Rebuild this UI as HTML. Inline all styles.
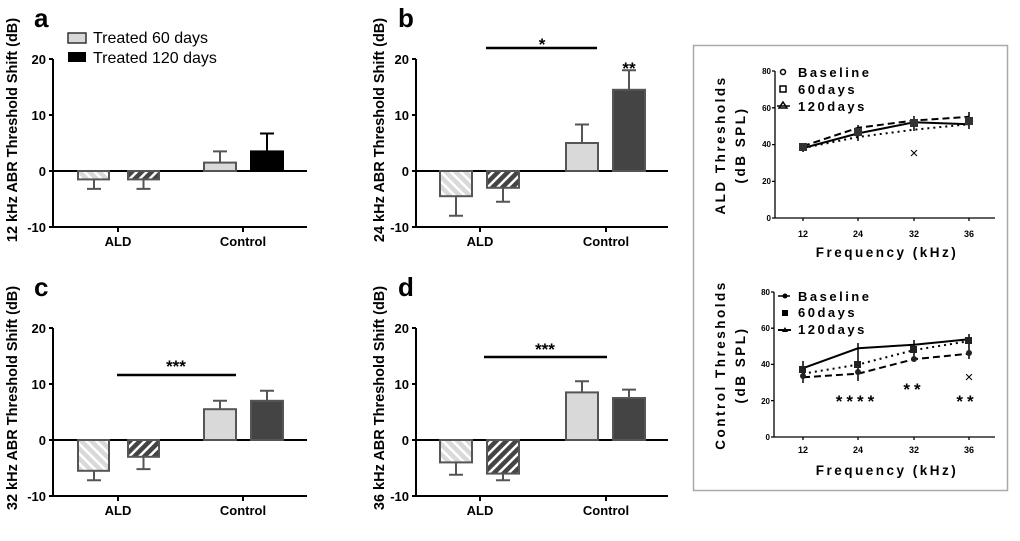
<!DOCTYPE html>
<html><head><meta charset="utf-8"><style>
body{margin:0;background:#fff}
svg{display:block;font-family:"Liberation Sans",Arial,sans-serif}
.tk{font-size:13px;font-weight:bold;text-anchor:end}
.cat{font-size:13px;font-weight:bold;text-anchor:middle}
.yt{font-size:14.5px;font-weight:bold;text-anchor:middle}
.pl{font-size:26px;font-weight:bold}
.st{font-size:17px;font-weight:bold;text-anchor:middle}
.it{font-size:8px;font-weight:bold;text-anchor:end}
.ix{font-size:9px;font-weight:bold;text-anchor:middle}
.lg{font-size:13px;font-weight:bold;letter-spacing:2.5px}
.ia{font-size:13.5px;font-weight:bold;letter-spacing:2.5px;text-anchor:middle}
</style></head><body>
<svg width="1020" height="541" viewBox="0 0 1020 541">
<defs>
<pattern id="hl" width="7" height="7" patternUnits="userSpaceOnUse" patternTransform="rotate(-45)">
<rect width="7" height="7" fill="#d9d9d9"/><rect width="2.5" height="7" fill="#fff"/></pattern>
<pattern id="hd" width="7" height="7" patternUnits="userSpaceOnUse" patternTransform="rotate(45)">
<rect width="7" height="7" fill="#444"/><rect width="2.5" height="7" fill="#fff"/></pattern>
</defs>
<g stroke="#000" stroke-width="2" fill="none">
<path d="M53 59V227M49 59H53M49 115H53M49 171H53M49 227H53M53 227H307M118 227v5M243 227v5M53 171H307"/>
<path d="M416 59V227M412 59H416M412 115H416M412 171H416M412 227H416M416 227H668M480 227v5M606 227v5M416 171H668"/>
<path d="M53 328V496M49 328H53M49 384H53M49 440H53M49 496H53M53 496H307M118 496v5M243 496v5M53 440H307"/>
<path d="M416 328V496M412 328H416M412 384H416M412 440H416M412 496H416M416 496H668M480 496v5M606 496v5M416 440H668"/>
</g>
<g stroke="#555" stroke-width="2">
<rect x="78" y="171" width="31" height="8.4" fill="url(#hl)"/>
<rect x="128" y="171" width="31" height="8.4" fill="url(#hd)"/>
<rect x="204" y="162.6" width="32" height="8.4" fill="#d9d9d9"/>
<rect x="251" y="151.4" width="32" height="19.6" fill="#000" stroke="#000"/>
<rect x="440" y="171" width="32" height="25.2" fill="url(#hl)"/>
<rect x="487" y="171" width="32" height="16.8" fill="url(#hd)"/>
<rect x="566" y="143" width="32" height="28" fill="#d9d9d9"/>
<rect x="613" y="89.8" width="32" height="81.2" fill="#444"/>
<rect x="78" y="440" width="31" height="30.8" fill="url(#hl)"/>
<rect x="128" y="440" width="31" height="16.8" fill="url(#hd)"/>
<rect x="204" y="409.2" width="32" height="30.8" fill="#d9d9d9"/>
<rect x="251" y="400.8" width="32" height="39.2" fill="#444"/>
<rect x="440" y="440" width="32" height="22.4" fill="url(#hl)"/>
<rect x="487" y="440" width="32" height="33.6" fill="url(#hd)"/>
<rect x="566" y="392.4" width="32" height="47.6" fill="#d9d9d9"/>
<rect x="613" y="398" width="32" height="42" fill="#444"/>
</g>
<g stroke="#555" stroke-width="2" fill="none">
<path d="M94 179.4V188.9M87 188.9H101M143.5 179.4V188.9M136.5 188.9H150.5M220 162.6V151.4M213 151.4H227"/>
<path d="M267 151.4V133.5M260 133.5H274" stroke="#000"/>
<path d="M456 196.2V215.8M449 215.8H463M503 187.8V201.8M496 201.8H510M582 143V124.5M575 124.5H589M629 89.8V70.2M622 70.2H636"/>
<path d="M94 470.8V480.3M87 480.3H101M143.5 456.8V469.1M136.5 469.1H150.5M220 409.2V400.8M213 400.8H227M267 400.8V390.7M260 390.7H274"/>
<path d="M456 462.4V474.7M449 474.7H463M503 473.6V480.3M496 480.3H510M582 392.4V381.2M575 381.2H589M629 398V389.6M622 389.6H636"/>
</g>
<g stroke="#000" stroke-width="2.5"><path d="M486 48H597M117 375H236M484 357H607"/></g>
<text x="542" y="50" class="st">*</text><text x="629" y="74" class="st">**</text>
<text x="176" y="372" class="st">***</text><text x="545" y="355" class="st">***</text>
<g class="tk">
<text x="46" y="64">20</text><text x="46" y="120">10</text><text x="46" y="176">0</text><text x="46" y="232">-10</text>
<text x="409" y="64">20</text><text x="409" y="120">10</text><text x="409" y="176">0</text><text x="409" y="232">-10</text>
<text x="46" y="333">20</text><text x="46" y="389">10</text><text x="46" y="445">0</text><text x="46" y="501">-10</text>
<text x="409" y="333">20</text><text x="409" y="389">10</text><text x="409" y="445">0</text><text x="409" y="501">-10</text>
</g>
<g class="cat">
<text x="118" y="246">ALD</text><text x="243" y="246">Control</text>
<text x="480" y="246">ALD</text><text x="606" y="246">Control</text>
<text x="118" y="515">ALD</text><text x="243" y="515">Control</text>
<text x="480" y="515">ALD</text><text x="606" y="515">Control</text>
</g>
<text class="yt" transform="translate(17,130) rotate(-90)">12 kHz ABR Threshold  Shift (dB)</text>
<text class="yt" transform="translate(384,130) rotate(-90)">24 kHz ABR Threshold  Shift (dB)</text>
<text class="yt" transform="translate(17,398) rotate(-90)">32 kHz ABR Threshold  Shift (dB)</text>
<text class="yt" transform="translate(384,398) rotate(-90)">36 kHz ABR Threshold  Shift (dB)</text>
<text x="34" y="27" class="pl">a</text><text x="398" y="27" class="pl">b</text>
<text x="34" y="296" class="pl">c</text><text x="398" y="296" class="pl">d</text>
<rect x="68" y="33" width="18" height="10" fill="#d9d9d9" stroke="#333" stroke-width="1.5"/>
<rect x="68" y="52" width="18" height="10" fill="#000"/>
<text x="93" y="43" style="font-size:16px">Treated 60 days</text>
<text x="93" y="63" style="font-size:16px">Treated 120 days</text>
<rect x="693.5" y="45.5" width="314" height="445" fill="none" stroke="#aaa" stroke-width="1.5"/>
<g stroke="#000" stroke-width="1.3" fill="none">
<path d="M775 71V218H995M772 71H775M772 107.8H775M772 144.6H775M772 181.4H775M772 218H775M803 218v3M858 218v3M914 218v3M969 218v3"/>
</g>
<g fill="none" stroke="#000" stroke-width="2">
<polyline points="803,148.1 858,133.4 914,122.3 969,124.2"/>
<polyline points="803,146.2 858,127.8 914,120.5 969,116.8" stroke-dasharray="7,4"/>
<polyline points="803,148.1 858,137 914,129.7 969,124.2" stroke-dasharray="2,4"/>
<path d="M803 143V152M858 125V141M914 116V131M969 112V129" stroke-width="1.5"/>
</g>
<g fill="#333"><rect x="799" y="143" width="8" height="8"/><rect x="854" y="128" width="8" height="8"/><rect x="910" y="119" width="8" height="8"/><rect x="965" y="117" width="8" height="8"/></g>
<text x="914" y="158" class="ix" style="font-size:15px;font-weight:normal">×</text>
<g class="it"><text x="771" y="74">80</text><text x="771" y="111">60</text><text x="771" y="147">40</text><text x="771" y="184">20</text><text x="771" y="221">0</text></g>
<g class="ix"><text x="803" y="237">12</text><text x="858" y="237">24</text><text x="914" y="237">32</text><text x="969" y="237">36</text></g>
<text x="887" y="257" class="ia">Frequency (kHz)</text>
<text class="ia" transform="translate(725,145) rotate(-90)">ALD Thresholds</text>
<text class="ia" transform="translate(745,145) rotate(-90)">(dB SPL)</text>
<circle cx="783" cy="72" r="2.5" fill="#fff" stroke="#000" stroke-width="1.5"/>
<rect x="780" y="86" width="6" height="6" fill="#fff" stroke="#000" stroke-width="1.5"/>
<path d="M783 102L787 108H779Z" fill="#fff" stroke="#000" stroke-width="1.5"/>
<path d="M777 106H790" stroke="#000" stroke-width="1.5"/>
<text x="798" y="77" class="lg">Baseline</text><text x="798" y="94" class="lg">60days</text><text x="798" y="111" class="lg">120days</text>
<g stroke="#000" stroke-width="1.3" fill="none">
<path d="M774 292V437H995M771 292H774M771 328.2H774M771 364.4H774M771 400.6H774M771 437H774M803 437v3M858 437v3M914 437v3M969 437v3"/>
</g>
<g fill="none" stroke="#000" stroke-width="2">
<polyline points="803,368.2 858,348.3 914,344.7 969,339.3"/>
<polyline points="803,373.7 858,364.6 914,350.1 969,341.1" stroke-dasharray="2,4"/>
<polyline points="803,377.3 858,373.7 914,359.2 969,353.7" stroke-dasharray="7,4"/>
<path d="M803 361V383M858 343V381M914 340V356M969 334V359" stroke-width="1.5"/>
</g>
<g fill="#222"><circle cx="803" cy="376" r="3"/><circle cx="858" cy="372" r="3"/><circle cx="914" cy="359" r="3"/><circle cx="969" cy="353" r="3"/>
<rect x="799" y="366" width="7" height="7"/><rect x="854" y="361" width="7" height="7"/><rect x="910" y="346" width="7" height="7"/><rect x="965" y="337" width="7" height="7"/></g>
<text x="969" y="382" class="ix" style="font-size:15px;font-weight:normal">×</text>
<text x="857" y="407" class="ix" style="font-size:17px;letter-spacing:4px">****</text>
<text x="914" y="395" class="ix" style="font-size:17px;letter-spacing:4px">**</text>
<text x="967" y="407" class="ix" style="font-size:17px;letter-spacing:4px">**</text>
<g class="it"><text x="770" y="295">80</text><text x="770" y="331">60</text><text x="770" y="367">40</text><text x="770" y="404">20</text><text x="770" y="440">0</text></g>
<g class="ix"><text x="803" y="453">12</text><text x="858" y="453">24</text><text x="914" y="453">32</text><text x="969" y="453">36</text></g>
<text x="887" y="475" class="ia">Frequency (kHz)</text>
<text class="ia" transform="translate(725,365) rotate(-90)">Control Thresholds</text>
<text class="ia" transform="translate(745,365) rotate(-90)">(dB SPL)</text>
<circle cx="785" cy="296" r="2.5" fill="#000"/><path d="M778 296H790" stroke="#000" stroke-width="1.5"/>
<rect x="782" y="310" width="6" height="6" fill="#000"/>
<path d="M778 330H791" stroke="#000" stroke-width="2"/><path d="M785 327L788 332H782Z" fill="#000"/>
<text x="798" y="301" class="lg">Baseline</text><text x="798" y="317" class="lg">60days</text><text x="798" y="334" class="lg">120days</text>
</svg>
</body></html>
